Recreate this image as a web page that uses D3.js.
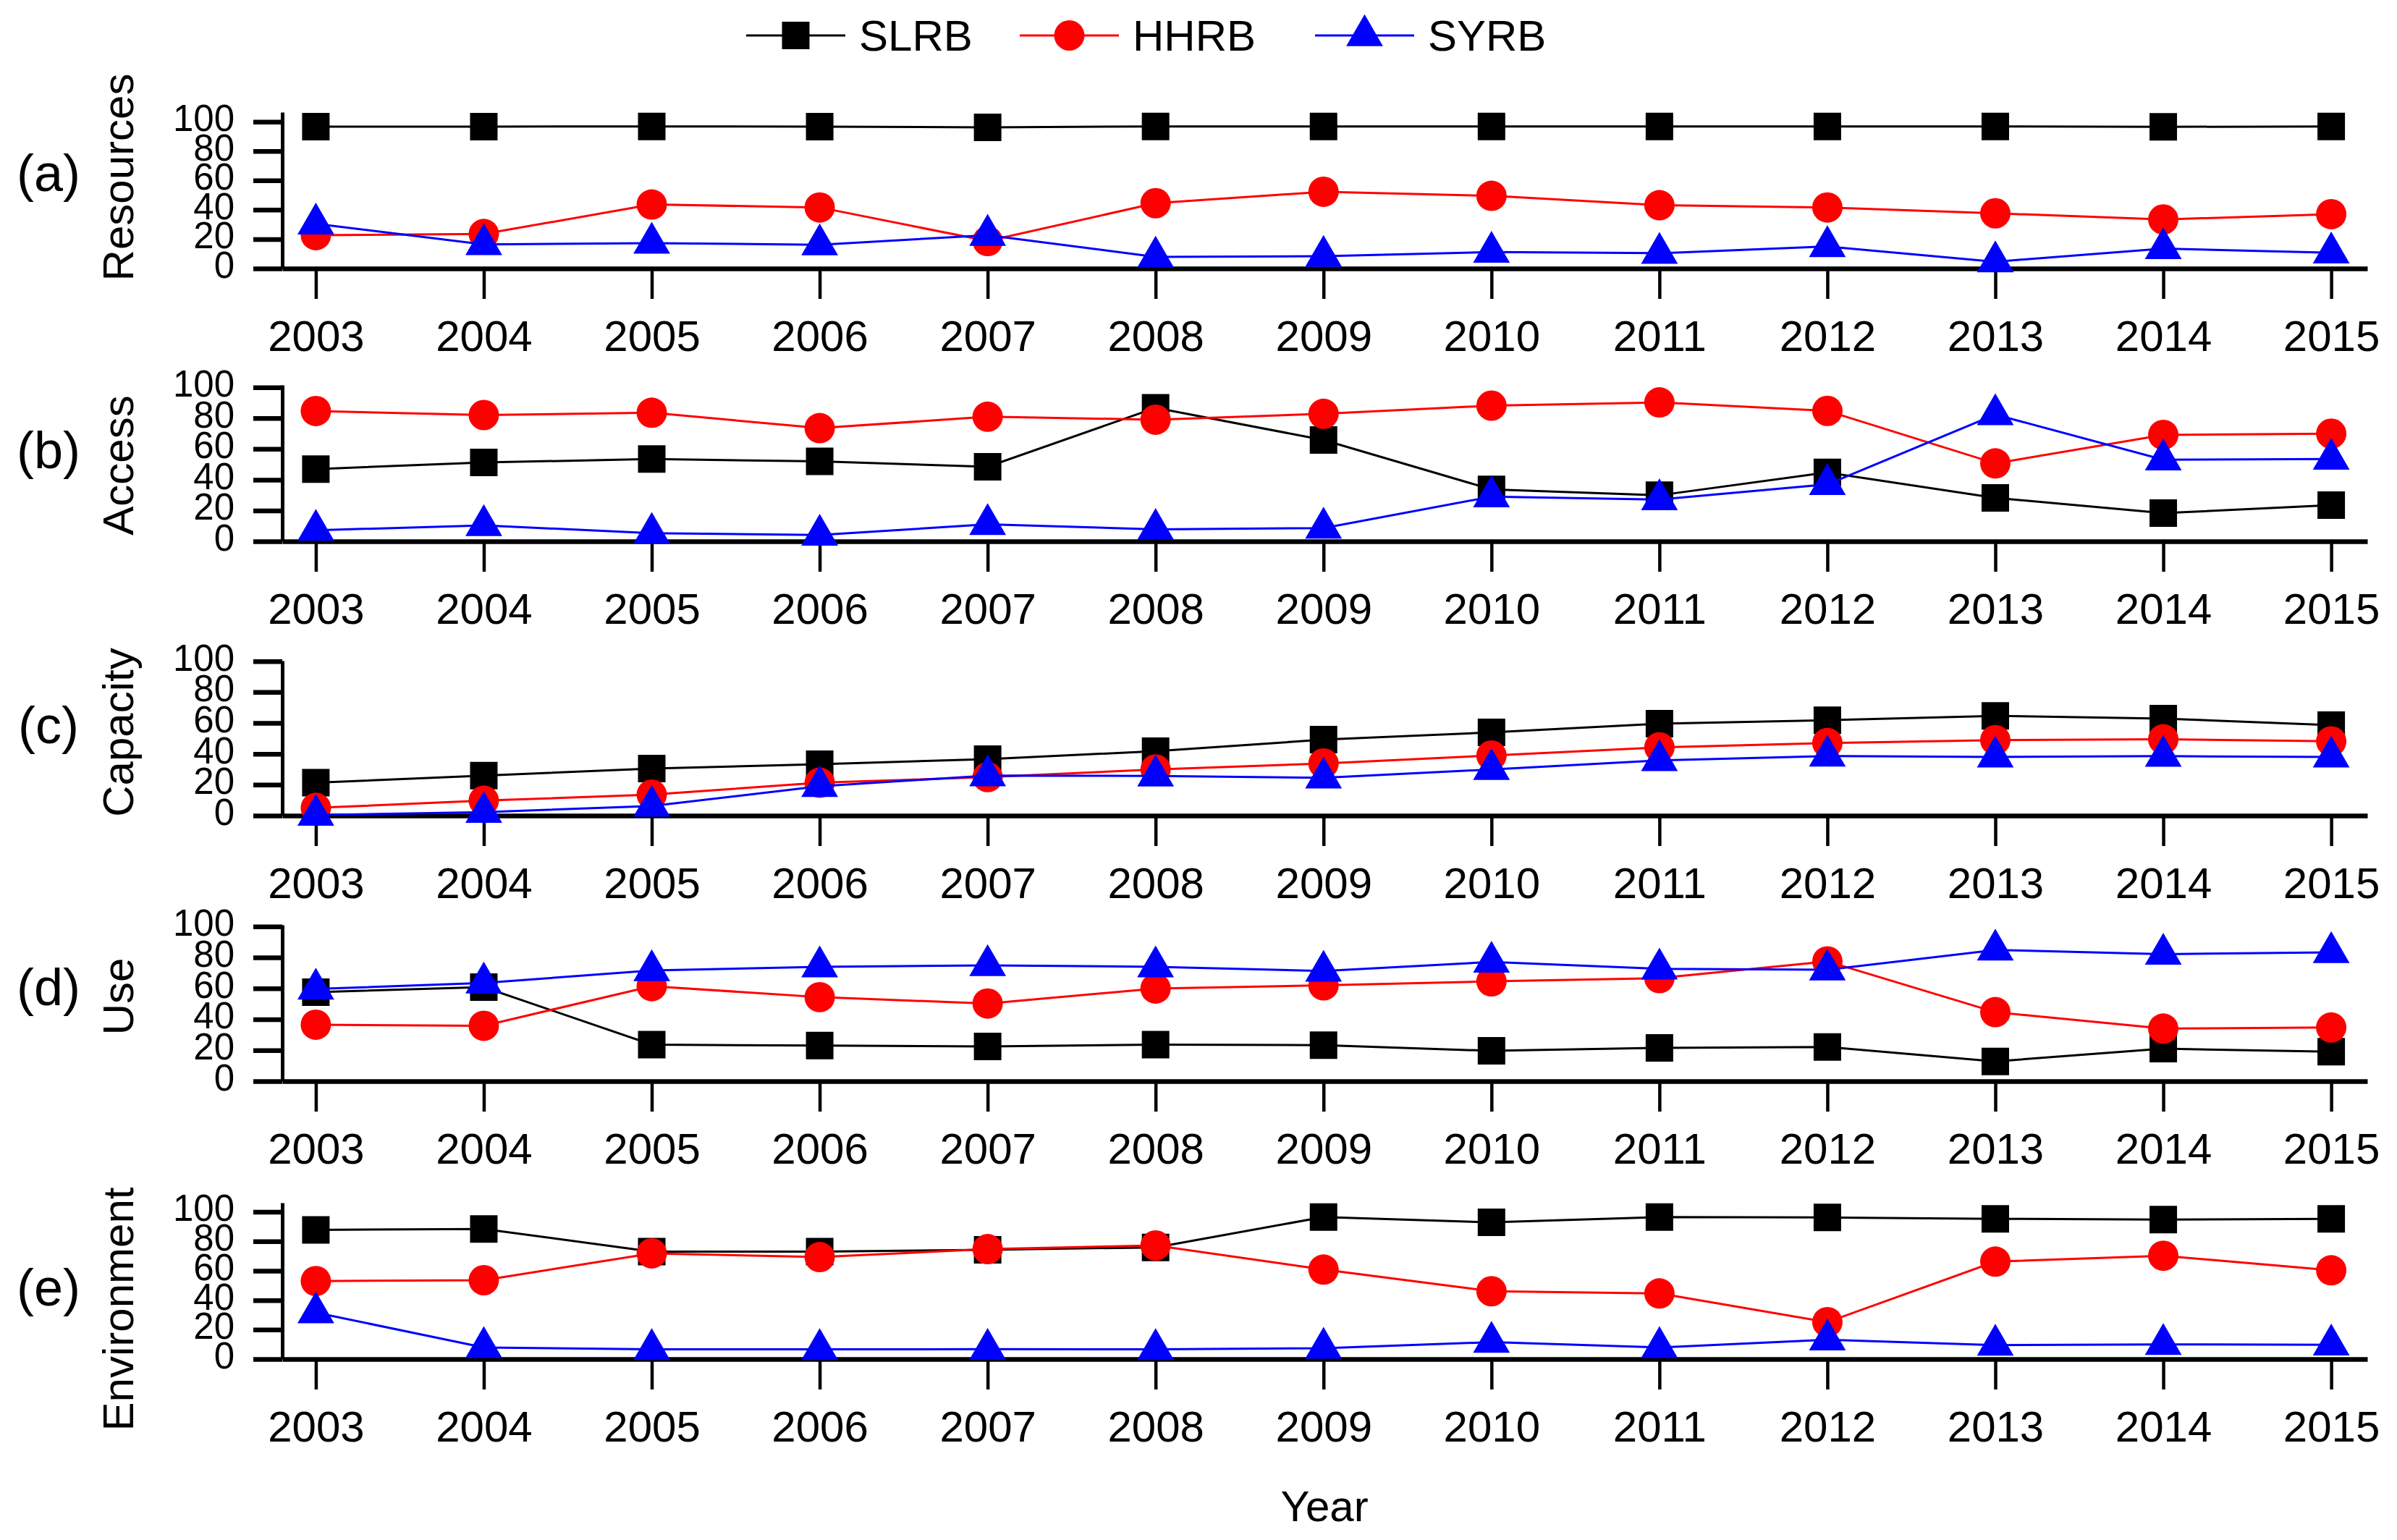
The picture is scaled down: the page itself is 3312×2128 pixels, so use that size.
<!DOCTYPE html>
<html>
<head>
<meta charset="utf-8">
<script src="https://cdn.jsdelivr.net/npm/d3@7"></script>
<style>
  body { margin: 0; background: #fff; }
  text { font-family: "Liberation Sans", Arial, sans-serif; fill: #000; }
</style>
</head>
<body>
<div id="chart"></div>
<script>
// data
const years = [2003, 2004, 2005, 2006, 2007, 2008, 2009, 2010, 2011, 2012, 2013, 2014, 2015];
const seriesNames = ["SLRB", "HHRB", "SYRB"];
const panelTitles = ["Resources", "Access", "Capacity", "Use", "Environment"];
const panelLetters = ["(a)", "(b)", "(c)", "(d)", "(e)"];
const yTicks = [0, 20, 40, 60, 80, 100];

const resourcesSLRB = [96.7, 96.7, 96.8, 96.7, 96.1, 96.8, 96.8, 96.8, 96.8, 96.8, 96.8, 96.5, 96.8];
const resourcesHHRB = [22.7, 23.5, 43.6, 41.6, 18.7, 44.5, 52.3, 49.5, 43.1, 41.6, 37.6, 33.4, 37.0];
const resourcesSYRB = [30.4, 16.4, 17.3, 16.2, 22.7, 7.9, 8.4, 11.2, 10.4, 15.0, 4.6, 13.6, 10.7];

const accessSLRB = [46.9, 51.2, 53.4, 51.9, 48.4, 86.7, 65.8, 33.7, 29.9, 44.7, 28.2, 18.3, 23.5];
const accessHHRB = [84.6, 82.0, 83.5, 73.5, 80.9, 79.0, 82.8, 88.1, 90.2, 84.7, 50.6, 69.1, 69.9];
const accessSYRB = [7.2, 10.3, 5.3, 4.1, 11.0, 7.8, 8.6, 29.0, 27.1, 37.0, 82.3, 53.0, 53.4];

const capacitySLRB = [21.3, 25.9, 30.5, 33.3, 36.6, 41.7, 49.2, 53.9, 59.5, 61.8, 64.6, 62.8, 58.6];
const capacityHHRB = [5.0, 9.7, 13.6, 21.3, 24.9, 29.9, 33.8, 38.9, 44.2, 47.0, 48.9, 49.4, 48.1];
const capacitySYRB = [0.3, 2.2, 6.2, 19.0, 25.9, 25.7, 24.5, 29.9, 35.7, 38.6, 38.0, 38.5, 38.0];

const useSLRB = [57.5, 60.8, 23.6, 23.0, 22.5, 23.6, 23.3, 19.6, 21.5, 22.1, 12.8, 21.0, 19.0];
const useHHRB = [36.5, 35.8, 61.4, 54.3, 50.2, 59.9, 61.9, 64.5, 66.6, 77.4, 44.6, 34.0, 34.7];
const useSYRB = [59.6, 63.5, 71.5, 73.9, 74.8, 73.9, 71.2, 77.0, 72.6, 72.0, 84.8, 82.1, 83.2];

const environmentSLRB = [87.8, 88.4, 73.0, 73.0, 74.3, 75.9, 96.5, 92.9, 96.5, 96.2, 95.3, 94.8, 95.3];
const environmentHHRB = [53.0, 53.6, 71.8, 69.3, 74.7, 77.2, 60.8, 46.1, 44.6, 25.1, 66.2, 70.2, 60.3];
const environmentSYRB = [31.6, 7.9, 6.6, 6.6, 6.7, 6.6, 7.4, 11.5, 7.9, 13.1, 9.5, 10.0, 9.7];

const panelData = [
  [resourcesSLRB, resourcesHHRB, resourcesSYRB],
  [accessSLRB, accessHHRB, accessSYRB],
  [capacitySLRB, capacityHHRB, capacitySYRB],
  [useSLRB, useHHRB, useSYRB],
  [environmentSLRB, environmentHHRB, environmentSYRB]
];

// layout of the five stacked panels (pixel positions)
const panels = [
  { top: 155, bottom: 371, yMax: 106.5, letterY: 264, titleY: 245 },
  { top: 532, bottom: 748, yMax: 101.5, letterY: 647, titleY: 643 },
  { top: 913, bottom: 1127, yMax: 100.3, letterY: 1027, titleY: 1012 },
  { top: 1278, bottom: 1494, yMax: 101, letterY: 1389, titleY: 1377 },
  { top: 1662, bottom: 1878, yMax: 106.2, letterY: 1804, titleY: 1809 }
];

const width = 3312, height = 2128;
const colors = ["#000000", "#ff0000", "#0000ff"];
const symbols = [d3.symbolSquare, d3.symbolCircle, d3.symbolTriangle];
const symbolSizes = [1444, 1385, 1118];

const svg = d3.select("#chart").append("svg")
  .attr("width", width)
  .attr("height", height);

const x = d3.scaleLinear()
  .domain([2002.8, 2015.215])
  .range([390, 3271]);

function addMarker(g, i, cx, cy) {
  g.append("path")
    .attr("transform", `translate(${cx},${cy})`)
    .attr("d", d3.symbol().type(symbols[i]).size(symbolSizes[i])())
    .attr("fill", colors[i]);
}

panels.forEach((p, k) => {
  const g = svg.append("g");
  const y = d3.scaleLinear().domain([0, p.yMax]).range([p.bottom, p.top]);

  // y axis
  const yAxis = g.append("g")
    .attr("transform", `translate(${x.range()[0]},0)`)
    .call(d3.axisLeft(y).tickValues(yTicks).tickSize(40).tickSizeOuter(0).tickPadding(26));
  yAxis.select(".domain").attr("stroke-width", 5);
  yAxis.selectAll(".tick line").attr("stroke-width", 6.5);
  yAxis.selectAll(".tick text")
    .style("font-size", "51px")
    .style("font-family", "'Liberation Sans', Arial, sans-serif")
    .attr("dy", "0.36em")
    .attr("y", -6);

  // x axis
  const xAxis = g.append("g")
    .attr("transform", `translate(0,${p.bottom})`)
    .call(d3.axisBottom(x).tickValues(years).tickFormat(d3.format("d")).tickSize(42).tickSizeOuter(0));
  xAxis.select(".domain").attr("stroke-width", 6.5);
  xAxis.selectAll(".tick line").attr("stroke-width", 4.5);
  xAxis.selectAll(".tick text")
    .style("font-size", "60px")
    .style("font-family", "'Liberation Sans', Arial, sans-serif")
    .attr("y", 114)
    .attr("dy", 0);

  // titles
  g.append("text")
    .attr("transform", `translate(184,${p.titleY}) rotate(-90)`)
    .attr("text-anchor", "middle")
    .style("font-size", "60px")
    .text(panelTitles[k]);
  g.append("text")
    .attr("x", 67)
    .attr("y", p.letterY)
    .attr("text-anchor", "middle")
    .style("font-size", "72px")
    .text(panelLetters[k]);

  // series
  panelData[k].forEach((vals, i) => {
    const pts = years.map((yr, j) => [x(yr), y(vals[j])]);
    g.append("path")
      .attr("d", d3.line()(pts))
      .attr("fill", "none")
      .attr("stroke", colors[i])
      .attr("stroke-width", 3);
    pts.forEach(pt => addMarker(g, i, pt[0], pt[1]));
  });
});

// legend
const legendX = [1031, 1409, 1817];
const legend = svg.append("g");
seriesNames.forEach((name, i) => {
  const lx = legendX[i];
  legend.append("line")
    .attr("x1", lx).attr("x2", lx + 137)
    .attr("y1", 49).attr("y2", 49)
    .attr("stroke", colors[i])
    .attr("stroke-width", 3);
  addMarker(legend, i, lx + 68.5, 49);
  legend.append("text")
    .attr("x", lx + 156)
    .attr("y", 70)
    .style("font-size", "60px")
    .text(name);
});

// x axis title
svg.append("text")
  .attr("x", 1830)
  .attr("y", 2102)
  .attr("text-anchor", "middle")
  .style("font-size", "60px")
  .text("Year");
</script>
</body>
</html>
